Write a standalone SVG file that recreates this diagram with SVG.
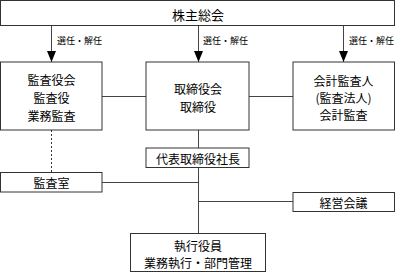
<svg xmlns="http://www.w3.org/2000/svg" width="396" height="273" viewBox="0 0 396 273">
<style>
.box{fill:#fff;stroke:#333;stroke-width:1}
.ln{fill:none;stroke:#444;stroke-width:1}
.dash{fill:none;stroke:#333;stroke-width:1;stroke-dasharray:2,2}
text{font-family:"Noto Sans CJK JP","Noto Sans",sans-serif;fill:#000}
.t{font-size:12px;text-anchor:middle;dominant-baseline:central}
.tl{font-size:13px;text-anchor:middle;dominant-baseline:central}
.s{font-size:9px;dominant-baseline:central}
</style>
<defs>
<marker id="ah" viewBox="0 0 11 9" refX="11" refY="4.5" markerWidth="11" markerHeight="9" markerUnits="userSpaceOnUse" orient="auto">
<path d="M0,0 L11,4.5 L0,9 Z" fill="#000"/>
</marker>
</defs>
<g id="connectors">
<path class="ln" d="M51.5,25.5 V62" marker-end="url(#ah)"/>
<path class="ln" d="M198.5,25.5 V62" marker-end="url(#ah)"/>
<path class="ln" d="M343.5,25.5 V62" marker-end="url(#ah)"/>
<path class="ln" d="M102,96.5 H146"/>
<path class="ln" d="M249,96.5 H293"/>
<path class="ln" d="M198.5,130 V148"/>
<path class="ln" d="M198.5,167.5 V233.5"/>
<path class="ln" d="M102,182.5 H198.5"/>
<path class="ln" d="M198.5,201.5 H293"/>
<path class="dash" d="M51.5,130 V172.5"/>
<text class="s" x="57" y="40.5">選任・解任</text>
<text class="s" x="203" y="40.5">選任・解任</text>
<text class="s" x="349" y="40.5">選任・解任</text>
</g>
<g id="shareholders">
<rect class="box" x="0.5" y="0.5" width="394" height="25"/>
<text class="tl" x="198" y="14">株主総会</text>
</g>
<g id="audit">
<rect class="box" x="0.5" y="62" width="101.5" height="68"/>
<text class="t" x="51.5" y="79">監査役会</text>
<text class="t" x="51.5" y="97">監査役</text>
<text class="t" x="51.5" y="115">業務監査</text>
</g>
<g id="board">
<rect class="box" x="146" y="62" width="103" height="68"/>
<text class="t" x="198" y="88">取締役会</text>
<text class="t" x="198" y="106">取締役</text>
</g>
<g id="accountant">
<rect class="box" x="293" y="62" width="101.5" height="68"/>
<text class="t" x="343.5" y="80">会計監査人</text>
<text class="t" x="343.5" y="97">(監査法人)</text>
<text class="t" x="343.5" y="114">会計監査</text>
</g>
<g id="president">
<rect class="box" x="146" y="148" width="103" height="19.5"/>
<text class="t" x="198" y="158">代表取締役社長</text>
</g>
<g id="audit-office">
<rect class="box" x="0.5" y="172.5" width="101.5" height="19.5"/>
<text class="t" x="51.5" y="182.5">監査室</text>
</g>
<g id="management">
<rect class="box" x="293" y="192.5" width="101.5" height="19"/>
<text class="t" x="343.5" y="202">経営会議</text>
</g>
<g id="officers">
<rect class="box" x="130.5" y="233.5" width="135" height="38"/>
<text class="t" x="198" y="245">執行役員</text>
<text class="t" x="198" y="262">業務執行・部門管理</text>
</g>
</svg>
